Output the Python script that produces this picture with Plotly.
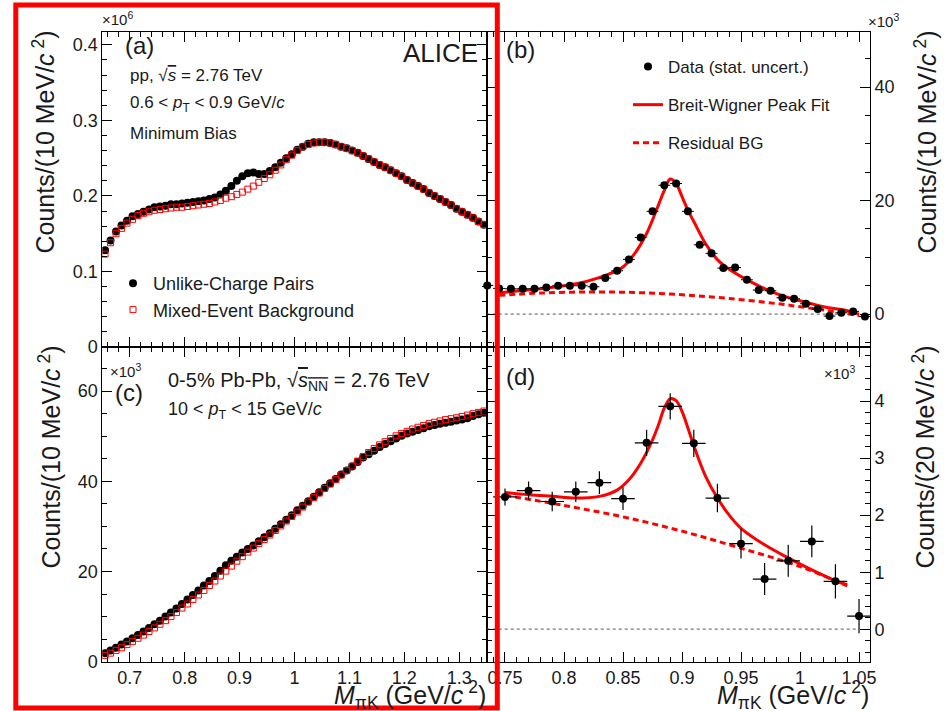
import plotly.graph_objects as go

# ---------------- data ----------------
# (a) pp 2.76 TeV, 0.6 < pT < 0.9 GeV/c  (10 MeV bins), counts x10^6
mass_a = [0.655, 0.665, 0.675, 0.685, 0.695, 0.705, 0.715, 0.725, 0.735, 0.745,
          0.755, 0.765, 0.775, 0.785, 0.795, 0.805, 0.815, 0.825, 0.835, 0.845,
          0.855, 0.865, 0.875, 0.885, 0.895, 0.905, 0.915, 0.925, 0.935, 0.945,
          0.955, 0.965, 0.975, 0.985, 0.995, 1.005, 1.015, 1.025, 1.035, 1.045,
          1.055, 1.065, 1.075, 1.085, 1.095, 1.105, 1.115, 1.125, 1.135, 1.145,
          1.155, 1.165, 1.175, 1.185, 1.195, 1.205, 1.215, 1.225, 1.235, 1.245,
          1.255, 1.265, 1.275, 1.285, 1.295, 1.305, 1.315, 1.325, 1.335, 1.345]
unlike_a = [0.128, 0.141, 0.153, 0.161, 0.167, 0.173, 0.176, 0.179, 0.182, 0.185,
            0.186, 0.187, 0.189, 0.189, 0.190, 0.191, 0.192, 0.193, 0.194, 0.196,
            0.198, 0.202, 0.207, 0.213, 0.220, 0.226, 0.230, 0.231, 0.229, 0.229,
            0.233, 0.238, 0.244, 0.250, 0.255, 0.261, 0.265, 0.269, 0.271, 0.271,
            0.271, 0.270, 0.268, 0.265, 0.263, 0.260, 0.257, 0.253, 0.249, 0.245,
            0.241, 0.238, 0.234, 0.230, 0.226, 0.221, 0.217, 0.213, 0.209, 0.204,
            0.200, 0.196, 0.192, 0.188, 0.183, 0.179, 0.175, 0.171, 0.166, 0.162]
mixed_a = [0.123, 0.138, 0.150, 0.157, 0.164, 0.169, 0.174, 0.177, 0.179, 0.181,
           0.182, 0.183, 0.184, 0.185, 0.185, 0.186, 0.187, 0.188, 0.189, 0.190,
           0.192, 0.194, 0.197, 0.199, 0.202, 0.205, 0.209, 0.213, 0.218, 0.223,
           0.228, 0.234, 0.241, 0.248, 0.254, 0.260, 0.265, 0.268, 0.270, 0.271,
           0.271, 0.270, 0.268, 0.265, 0.263, 0.260, 0.257, 0.253, 0.249, 0.245,
           0.241, 0.238, 0.234, 0.230, 0.226, 0.221, 0.217, 0.213, 0.209, 0.204,
           0.200, 0.196, 0.192, 0.188, 0.183, 0.179, 0.175, 0.171, 0.166, 0.162]

# (b) pp background-subtracted signal, counts x10^3
mass_b = [0.735, 0.745, 0.755, 0.765, 0.775, 0.785, 0.795, 0.805, 0.815, 0.825,
          0.835, 0.845, 0.855, 0.865, 0.875, 0.885, 0.895, 0.905, 0.915, 0.925,
          0.935, 0.945, 0.955, 0.965, 0.975, 0.985, 0.995, 1.005, 1.015, 1.025,
          1.035, 1.045, 1.055]
signal_b = [5.05, 4.52, 4.46, 4.46, 4.46, 4.70, 4.99, 4.99, 4.99, 4.81,
            6.34, 7.63, 9.63, 13.5, 18.1, 22.7, 23.0, 18.1, 12.2, 10.7,
            8.1, 8.2, 6.05, 4.23, 4.11, 2.88, 2.70, 1.82, 0.88, -0.35,
            0.23, 0.47, -0.41]
signal_b_err = [0.35] * len(mass_b)
bin_half_b = [0.005] * len(mass_b)

fit_b_x = [0.745, 0.76, 0.78, 0.80, 0.82, 0.84, 0.85, 0.86, 0.87, 0.875, 0.88,
           0.885, 0.89, 0.895, 0.90, 0.905, 0.91, 0.92, 0.93, 0.94, 0.96, 0.98,
           1.00, 1.02, 1.04, 1.05]
fit_b_y = [3.76, 4.05, 4.46, 4.99, 5.8, 7.2, 8.3, 10.7, 14.2, 16.6, 19.2,
           21.8, 23.8, 23.0, 20.7, 18.3, 16.3, 12.4, 9.6, 7.9, 5.5, 3.6,
           2.35, 1.3, 0.6, 0.0]
bg_b_x = [0.745, 0.78, 0.82, 0.86, 0.90, 0.94, 0.98, 1.00, 1.02, 1.05]
bg_b_y = [3.3, 3.7, 3.9, 3.8, 3.4, 2.75, 1.85, 1.3, 0.7, -0.25]

# (c) 0-5% Pb-Pb, 10 < pT < 15 GeV/c, counts x10^3
mass_c = mass_a
unlike_c = [1.9, 2.5, 3.1, 3.8, 4.5, 5.2, 5.9, 6.7, 7.5, 8.3,
            9.1, 10.0, 10.9, 11.8, 12.8, 13.8, 14.8, 15.8, 16.9, 17.9,
            19.0, 20.2, 21.4, 22.4, 23.3, 24.2, 25.0, 25.8, 26.7, 27.6,
            28.5, 29.5, 30.5, 31.5, 32.5, 33.6, 34.6, 35.6, 36.6, 37.6,
            38.6, 39.6, 40.5, 41.5, 42.4, 43.3, 44.3, 45.3, 46.0, 46.8,
            47.6, 48.3, 48.9, 49.5, 50.1, 50.6, 51.0, 51.4, 51.8, 52.2,
            52.5, 52.8, 53.0, 53.2, 53.5, 53.7, 54.0, 54.5, 54.9, 55.2]
mixed_c = [1.4, 1.9, 2.5, 3.1, 3.8, 4.5, 5.2, 5.9, 6.7, 7.5,
           8.3, 9.1, 10.0, 10.9, 11.9, 12.8, 13.8, 14.8, 15.8, 16.9,
           17.9, 19.0, 20.1, 21.2, 22.3, 23.3, 24.3, 25.2, 26.2, 27.1,
           28.1, 29.1, 30.1, 31.2, 32.2, 33.2, 34.3, 35.4, 36.4, 37.4,
           38.4, 39.4, 40.4, 41.4, 42.4, 43.4, 44.5, 45.5, 46.4, 47.3,
           48.1, 48.8, 49.5, 50.1, 50.6, 51.1, 51.6, 52.0, 52.4, 52.8,
           53.1, 53.4, 53.7, 53.9, 54.1, 54.4, 54.7, 55.0, 55.3, 55.6]

# (d) Pb-Pb background-subtracted signal (20 MeV bins), counts x10^3
mass_d = [0.75, 0.77, 0.79, 0.81, 0.83, 0.85, 0.87, 0.89, 0.91, 0.93,
          0.95, 0.97, 0.99, 1.01, 1.03, 1.05]
signal_d = [2.32, 2.43, 2.24, 2.41, 2.57, 2.29, 3.27, 3.91, 3.26, 2.30,
            1.50, 0.88, 1.20, 1.54, 0.84, 0.23]
signal_d_err = [0.15, 0.16, 0.17, 0.18, 0.20, 0.20, 0.23, 0.23, 0.24, 0.25,
                0.26, 0.28, 0.28, 0.28, 0.30, 0.30]
bin_half_d = [0.01] * len(mass_d)

fit_d_x = [0.75, 0.77, 0.79, 0.81, 0.83, 0.845, 0.855, 0.865, 0.875, 0.88,
           0.885, 0.89, 0.895, 0.90, 0.905, 0.91, 0.92, 0.93, 0.94, 0.95,
           0.97, 0.99, 1.01, 1.03, 1.04]
fit_d_y = [2.40, 2.36, 2.33, 2.30, 2.33, 2.44, 2.62, 2.91, 3.32, 3.58,
           3.88, 4.04, 4.01, 3.82, 3.53, 3.22, 2.68, 2.30, 2.00, 1.77,
           1.48, 1.25, 1.04, 0.85, 0.78]
bg_d_x = [0.75, 0.80, 0.85, 0.90, 0.95, 1.00, 1.04]
bg_d_y = [2.35, 2.17, 1.97, 1.72, 1.42, 1.10, 0.76]

zero_x = [0.7345, 1.05]
zero_y = [0, 0]

# ---------------- geometry helpers (pixels -> paper) ----------------
W, H = 944, 711


def px(x):
    return x / W


def py(y):
    return 1 - y / H


FONT = "Liberation Sans, Arial, Helvetica, sans-serif"
INK = "#1a1a1a"
RED = "#ff0000"

left_dom = [px(102.3), px(486.7)]
right_dom = [px(486.7), px(870)]
top_dom = [py(347), py(32)]
bot_dom = [py(661.7), py(347)]

fig = go.Figure()

# (a)
fig.add_trace(go.Scatter(x=mass_a, y=unlike_a, mode="markers", name="Unlike-Charge Pairs",
                         marker=dict(symbol="circle", size=8, color="black"),
                         xaxis="x", yaxis="y", legend="legend"))
fig.add_trace(go.Scatter(x=mass_a, y=mixed_a, mode="markers", name="Mixed-Event Background",
                         marker=dict(symbol="square-open", size=6, color=RED,
                                     line=dict(color=RED, width=1)),
                         xaxis="x", yaxis="y", legend="legend"))

# (b)
fig.add_trace(go.Scatter(x=zero_x, y=zero_y, mode="lines", showlegend=False,
                         line=dict(color="#777777", width=1.2, dash="dot"),
                         xaxis="x2", yaxis="y2"))
fig.add_trace(go.Scatter(x=bg_b_x, y=bg_b_y, mode="lines", name="Residual BG",
                         line=dict(color=RED, width=3, dash="6px,4px", shape="spline"),
                         xaxis="x2", yaxis="y2", legend="legend2", legendgroup="g3",
                         legendrank=3))
fig.add_trace(go.Scatter(x=fit_b_x, y=fit_b_y, mode="lines", name="Breit-Wigner Peak Fit",
                         line=dict(color=RED, width=3, shape="spline"),
                         xaxis="x2", yaxis="y2", legend="legend2", legendgroup="g2",
                         legendrank=2))
fig.add_trace(go.Scatter(x=mass_b, y=signal_b, mode="markers", name="Data (stat. uncert.)",
                         marker=dict(symbol="circle", size=8, color="black"),
                         error_x=dict(type="data", array=bin_half_b, color="black",
                                      thickness=1, width=0),
                         error_y=dict(type="data", array=signal_b_err, color="black",
                                      thickness=1, width=0),
                         cliponaxis=False,
                         xaxis="x2", yaxis="y2", legend="legend2", legendgroup="g1",
                         legendrank=1))

# (c)
fig.add_trace(go.Scatter(x=mass_c, y=unlike_c, mode="markers", showlegend=False,
                         marker=dict(symbol="circle", size=8, color="black"),
                         xaxis="x3", yaxis="y3"))
fig.add_trace(go.Scatter(x=mass_c, y=mixed_c, mode="markers", showlegend=False,
                         marker=dict(symbol="square-open", size=6, color=RED,
                                     line=dict(color=RED, width=1)),
                         xaxis="x3", yaxis="y3"))

# (d)
fig.add_trace(go.Scatter(x=zero_x, y=zero_y, mode="lines", showlegend=False,
                         line=dict(color="#777777", width=1.2, dash="dot"),
                         xaxis="x4", yaxis="y4"))
fig.add_trace(go.Scatter(x=bg_d_x, y=bg_d_y, mode="lines", showlegend=False,
                         line=dict(color=RED, width=3, dash="6px,4px", shape="spline"),
                         xaxis="x4", yaxis="y4"))
fig.add_trace(go.Scatter(x=fit_d_x, y=fit_d_y, mode="lines", showlegend=False,
                         line=dict(color=RED, width=3, shape="spline"),
                         xaxis="x4", yaxis="y4"))
fig.add_trace(go.Scatter(x=mass_d, y=signal_d, mode="markers", showlegend=False,
                         marker=dict(symbol="circle", size=8, color="black"),
                         error_x=dict(type="data", array=bin_half_d, color="black",
                                      thickness=1.2, width=0),
                         error_y=dict(type="data", array=signal_d_err, color="black",
                                      thickness=1.2, width=0),
                         cliponaxis=False,
                         xaxis="x4", yaxis="y4"))


def axis(**kw):
    base = dict(showline=True, linecolor="black", linewidth=1, mirror="ticks",
                ticks="inside", ticklen=10, tickwidth=1, tickcolor="black",
                showgrid=False, zeroline=False, automargin=False,
                tickfont=dict(family=FONT, size=18, color=INK))
    base.update(kw)
    return base


def minor(step):
    return dict(ticks="inside", ticklen=5, tickwidth=1, tickcolor="black",
                dtick=step, tick0=0, showgrid=False)


sup_ov = "<span style='text-decoration:overline'>"

annotations = [
    dict(text="×10<sup>6</sup>", x=px(100), y=py(18), xanchor="left", font=dict(size=15)),
    dict(text="(a)", x=px(123), y=py(46), xanchor="left", font=dict(size=24)),
    dict(text="ALICE", x=px(480), y=py(53), xanchor="right", font=dict(size=26)),
    dict(text="pp, √" + sup_ov + "<i>s</i></span> = 2.76 TeV", x=px(128), y=py(75),
         xanchor="left", font=dict(size=17)),
    dict(text="0.6 &lt; <i>p</i><sub>T</sub> &lt; 0.9 GeV/<i>c</i>", x=px(128), y=py(104),
         xanchor="left", font=dict(size=17)),
    dict(text="Minimum Bias", x=px(128), y=py(133), xanchor="left", font=dict(size=17)),
    dict(text="(b)", x=px(504), y=py(50), xanchor="left", font=dict(size=24)),
    dict(text="×10<sup>3</sup>", x=px(866), y=py(20), xanchor="left", font=dict(size=15)),
    dict(text="×10<sup>3</sup>", x=px(108), y=py(370), xanchor="left", font=dict(size=15)),
    dict(text="(c)", x=px(113), y=py(392), xanchor="left", font=dict(size=24)),
    dict(text="0-5% Pb-Pb, √" + sup_ov + "<i>s</i><sub>NN</sub></span> = 2.76 TeV",
         x=px(166), y=py(381), xanchor="left", font=dict(size=20)),
    dict(text="10 &lt; <i>p</i><sub>T</sub> &lt; 15 GeV/<i>c</i>", x=px(166), y=py(410),
         xanchor="left", font=dict(size=18)),
    dict(text="(d)", x=px(504), y=py(376), xanchor="left", font=dict(size=24)),
    dict(text="×10<sup>3</sup>", x=px(822), y=py(372), xanchor="left", font=dict(size=15)),
    dict(text="<i>M</i><sub>πK</sub> (GeV/<i>c</i><sup> 2</sup>)", x=px(488), y=py(695),
         xanchor="right", font=dict(size=25)),
    dict(text="<i>M</i><sub>πK</sub> (GeV/<i>c</i><sup> 2</sup>)", x=px(871), y=py(695),
         xanchor="right", font=dict(size=25)),
    dict(text="Counts/(10 MeV/<i>c</i><sup> 2</sup>)", x=px(43), y=py(29), textangle=-90,
         xanchor="center", yanchor="top", font=dict(size=25)),
    dict(text="Counts/(10 MeV/<i>c</i><sup> 2</sup>)", x=px(49), y=py(344), textangle=-90,
         xanchor="center", yanchor="top", font=dict(size=25)),
    dict(text="Counts/(10 MeV/<i>c</i><sup> 2</sup>)", x=px(925), y=py(29), textangle=-90,
         xanchor="center", yanchor="top", font=dict(size=25)),
    dict(text="Counts/(20 MeV/<i>c</i><sup> 2</sup>)", x=px(923), y=py(344), textangle=-90,
         xanchor="center", yanchor="top", font=dict(size=25)),
]
for a in annotations:
    a.setdefault("xref", "paper")
    a.setdefault("yref", "paper")
    a.setdefault("showarrow", False)
    a.setdefault("yanchor", "middle")
    a["font"].setdefault("family", FONT)
    a["font"].setdefault("color", INK)

fig.update_layout(
    width=W, height=H,
    margin=dict(l=0, r=0, t=0, b=0, autoexpand=False),
    paper_bgcolor="white", plot_bgcolor="white",
    font=dict(family=FONT, color=INK),
    xaxis=axis(domain=left_dom, anchor="y", range=[0.65, 1.35], dtick=0.1, tick0=0,
               showticklabels=False, minor=minor(0.02)),
    yaxis=axis(domain=top_dom, anchor="x", range=[0, 0.417], dtick=0.1, tick0=0,
               minor=minor(0.02)),
    xaxis2=axis(domain=right_dom, anchor="y2", range=[0.7345, 1.0593], dtick=0.05, tick0=0,
                showticklabels=False, minor=minor(0.01)),
    yaxis2=axis(domain=top_dom, anchor="x2", side="right", range=[-5.8, 49.7], dtick=20,
                tick0=0, minor=minor(5)),
    xaxis3=axis(domain=left_dom, anchor="y3", range=[0.65, 1.35], dtick=0.1, tick0=0,
                minor=minor(0.02)),
    yaxis3=axis(domain=bot_dom, anchor="x3", range=[0, 69.8], dtick=20, tick0=0,
                minor=minor(5)),
    xaxis4=axis(domain=right_dom, anchor="y4", range=[0.7345, 1.0593], dtick=0.05, tick0=0,
                minor=minor(0.01)),
    yaxis4=axis(domain=bot_dom, anchor="x4", side="right", range=[-0.57, 4.95], dtick=1,
                tick0=0, minor=minor(0.2)),
    legend=dict(x=px(113), y=py(265), xanchor="left", yanchor="top",
                bgcolor="rgba(0,0,0,0)", font=dict(family=FONT, size=18, color=INK),
                traceorder="normal"),
    legend2=dict(x=px(628), y=py(49), xanchor="left", yanchor="top",
                 bgcolor="rgba(0,0,0,0)", font=dict(family=FONT, size=17, color=INK),
                 traceorder="grouped", tracegroupgap=13),
    annotations=annotations,
    shapes=[dict(type="rect", xref="paper", yref="paper",
                 x0=px(15.8), x1=px(497.3), y0=py(708), y1=py(5),
                 line=dict(color=RED, width=5), layer="above")],
)

fig.write_html("out.html")
